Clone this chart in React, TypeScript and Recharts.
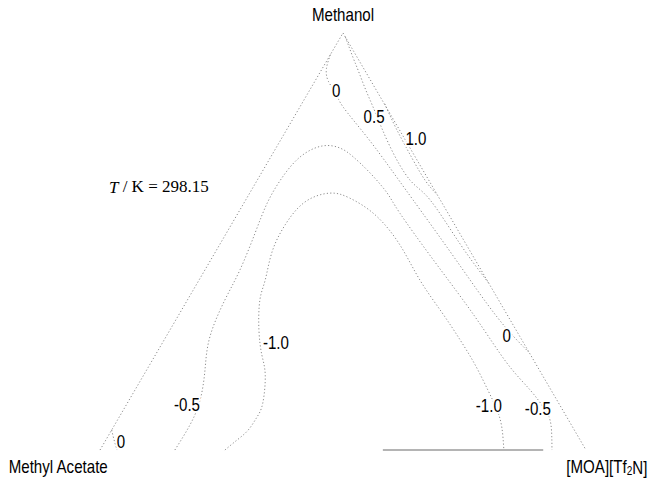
import { ComposedChart, Line, Scatter, XAxis, YAxis } from "recharts";

type Pt = { x: number; y: number };
type Tag = { x: number; y: number; text: string };

// ternary frame in base/height units: Methyl Acetate (0,0), [MOA][Tf2N] (100,0), Methanol (50,100)
const leftEdge: Pt[] = [{ x: 0, y: 0 }, { x: 50, y: 100 }];
const rightEdge: Pt[] = [{ x: 50, y: 100 }, { x: 100, y: 0 }];
const baseLine: Pt[] = [{ x: 58.2, y: 0 }, { x: 91.2, y: 0 }];

// contour lines
const contourMinus05: Pt[] = [
  { x: 15.4, y: 0 }, { x: 18.5, y: 6.0 }, { x: 20.6, y: 12.0 }, { x: 21.6, y: 19.2 },
  { x: 22.6, y: 27.1 }, { x: 25.7, y: 36.0 }, { x: 28.8, y: 43.2 }, { x: 31.9, y: 52.0 },
  { x: 34.4, y: 59.2 }, { x: 37.4, y: 65.2 }, { x: 41.2, y: 70.3 }, { x: 45.7, y: 72.9 },
  { x: 49.4, y: 72.4 }, { x: 52.1, y: 70.3 }, { x: 55.6, y: 66.4 }, { x: 59.1, y: 61.6 },
  { x: 61.7, y: 56.8 }, { x: 68.9, y: 45.1 }, { x: 77.2, y: 31.9 }, { x: 83.7, y: 20.9 },
  { x: 88.5, y: 14.4 }, { x: 91.6, y: 9.6 }, { x: 92.8, y: 6.0 }, { x: 93.0, y: 0 },
];
const contourMinus10: Pt[] = [
  { x: 25.7, y: 0 }, { x: 28.2, y: 2.4 }, { x: 30.5, y: 4.8 }, { x: 32.3, y: 7.9 },
  { x: 33.5, y: 11.3 }, { x: 34.0, y: 18.0 }, { x: 33.3, y: 22.8 }, { x: 32.7, y: 28.8 },
  { x: 32.9, y: 36.0 }, { x: 34.0, y: 40.8 }, { x: 35.4, y: 47.5 }, { x: 38.1, y: 54.0 },
  { x: 42.2, y: 59.5 }, { x: 47.3, y: 61.6 }, { x: 51.4, y: 60.4 }, { x: 56.6, y: 56.4 },
  { x: 61.7, y: 49.2 }, { x: 65.8, y: 40.8 }, { x: 70.4, y: 32.9 }, { x: 74.1, y: 26.4 },
  { x: 77.2, y: 20.4 }, { x: 79.8, y: 14.4 }, { x: 81.7, y: 9.6 }, { x: 82.7, y: 5.3 },
  { x: 83.1, y: 0 },
];
const contourZeroUpper: Pt[] = [
  { x: 47.4, y: 94.8 }, { x: 46.6, y: 91.5 }, { x: 47.0, y: 88.4 }, { x: 48.6, y: 85.4 },
  { x: 50.0, y: 82.3 }, { x: 54.9, y: 75.1 }, { x: 59.7, y: 67.6 }, { x: 64.4, y: 60.0 },
  { x: 73.0, y: 46.0 }, { x: 81.7, y: 31.9 }, { x: 88.2, y: 23.5 },
];
const contourZeroCorner: Pt[] = [{ x: 2.4, y: 4.8 }, { x: 2.9, y: 2.4 }, { x: 3.5, y: 0 }];
const contour05: Pt[] = [
  { x: 50.5, y: 99.0 }, { x: 52.1, y: 94.0 }, { x: 53.1, y: 91.1 }, { x: 54.7, y: 86.3 },
  { x: 56.6, y: 81.1 }, { x: 59.7, y: 72.7 }, { x: 63.8, y: 64.7 }, { x: 67.9, y: 60.0 },
  { x: 74.1, y: 49.4 }, { x: 80.0, y: 40.0 },
];
const contour10: Pt[] = [
  { x: 58.6, y: 83.0 }, { x: 60.9, y: 77.2 }, { x: 64.2, y: 70.0 }, { x: 67.0, y: 64.5 },
  { x: 69.4, y: 61.2 },
];

const contourLabels: Tag[] = [
  { x: 48.6, y: 86.1, text: "0" },
  { x: 56.4, y: 79.9, text: "0.5" },
  { x: 65.0, y: 74.6, text: "1.0" },
  { x: 83.7, y: 27.3, text: "0" },
  { x: 36.2, y: 25.7, text: "-1.0" },
  { x: 80.0, y: 10.6, text: "-1.0" },
  { x: 90.1, y: 9.8, text: "-0.5" },
  { x: 17.9, y: 10.8, text: "-0.5" },
  { x: 4.3, y: 1.9, text: "0" },
];

const vertexLabels: Tag[] = [
  { x: 50.0, y: 104.3, text: "Methanol" },
  { x: -8.6, y: -4.1, text: "Methyl Acetate" },
  { x: 104.3, y: -4.1, text: "[MOA][Tf2N]" },
];
const tempLabel: Tag[] = [{ x: 12.1, y: 63.1, text: "298.15" }];

const W = 653;
const H = 478;
const sans = "'Liberation Sans', Arial, sans-serif";
const squeeze = 0.84; // the original uses a narrow sans face
const dotted = { stroke: "#8c8c8c", strokeWidth: 1, strokeDasharray: "1.2 2.2" };

const contourLines = [
  leftEdge, rightEdge, contourMinus05, contourMinus10, contourZeroUpper,
  contourZeroCorner, contour05, contour10,
];

function ContourTag(p: any) {
  return (
    <text
      transform={`translate(${p.cx},${p.cy}) scale(${squeeze},1)`}
      textAnchor="middle"
      dominantBaseline="central"
      fontFamily={sans}
      fontSize={18}
      fill="#000"
      stroke="#fff"
      strokeWidth={4}
      paintOrder="stroke"
    >
      {p.payload.text}
    </text>
  );
}

function VertexTag(p: any) {
  const t: string = p.payload.text;
  const common = {
    transform: `translate(${p.cx},${p.cy}) scale(${squeeze},1)`,
    textAnchor: "middle" as const,
    dominantBaseline: "central" as const,
    fontFamily: sans,
    fontSize: 18,
    fill: "#000",
  };
  if (t.startsWith("[MOA]")) {
    return (
      <text {...common}>
        [MOA][Tf<tspan fontSize={12} dy={4}>2</tspan>
        <tspan dy={-4}>N]</tspan>
      </text>
    );
  }
  return <text {...common}>{t}</text>;
}

function TempTag(p: any) {
  return (
    <text
      x={p.cx}
      y={p.cy}
      textAnchor="middle"
      dominantBaseline="central"
      fontFamily="'Liberation Serif', 'Times New Roman', serif"
      fontSize={17}
      fill="#000"
    >
      <tspan fontStyle="italic">T</tspan> / K = {p.payload.text}
    </text>
  );
}

export default function App() {
  return (
    <div style={{ position: "absolute", left: 0, top: 0, width: W, height: H, background: "#fff" }}>
      <ComposedChart width={W} height={H} margin={{ top: 0, right: 0, bottom: 0, left: 0 }}>
        <XAxis type="number" dataKey="x" domain={[-20.58, 113.79]} allowDataOverflow hide />
        <YAxis type="number" dataKey="y" domain={[-6.71, 107.91]} allowDataOverflow hide />
        {contourLines.map((pts, i) => (
          <Line
            key={i}
            data={pts}
            dataKey="y"
            type="natural"
            dot={false}
            activeDot={false}
            {...dotted}
            isAnimationActive={false}
          />
        ))}
        <Line data={baseLine} dataKey="y" type="linear" dot={false} stroke="#6b6b6b" strokeWidth={1.2} isAnimationActive={false} />
        <Scatter data={contourLabels} shape={ContourTag} isAnimationActive={false} />
        <Scatter data={vertexLabels} shape={VertexTag} isAnimationActive={false} />
        <Scatter data={tempLabel} shape={TempTag} isAnimationActive={false} />
      </ComposedChart>
    </div>
  );
}
